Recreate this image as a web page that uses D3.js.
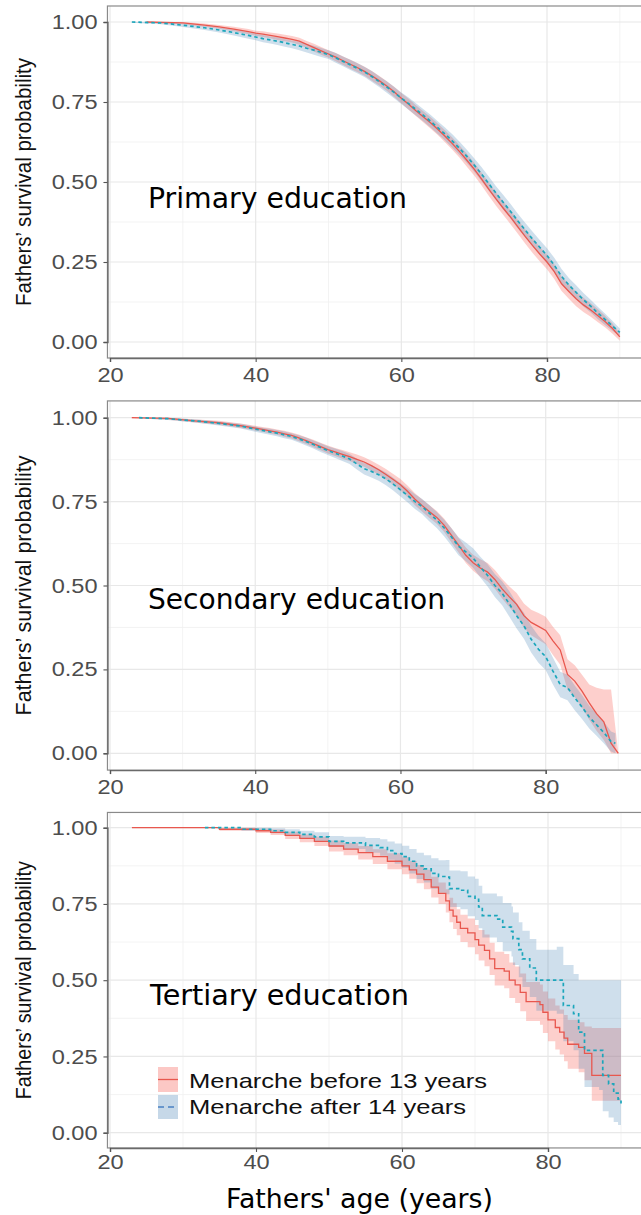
<!DOCTYPE html>
<html><head><meta charset="utf-8">
<script src="https://cdn.jsdelivr.net/npm/d3@7"></script>
<style>body{margin:0;background:#fff}svg{display:block}</style>
</head><body><svg id="c" width="641" height="1215"></svg>
<script>
// ---------- DATA ----------
const panelTitles = ["Primary education", "Secondary education", "Tertiary education"];
const seriesNames = ["Menarche before 13 years", "Menarche after 14 years"];
const xTicks = [20, 40, 60, 80];
const xMinorTicks = [30, 50, 70, 90];
const yTicks = [0, 0.25, 0.5, 0.75, 1];
const yMinorTicks = [0.125, 0.375, 0.625, 0.875];
const xTitle = "Fathers' age (years)";
const yTitle = "Fathers\u2019 survival probability";

// Primary education
const primaryBeforeAge = [25,30,33,35,37,39,40,41,42,43,44,45,46,47,48,49,50,51,52,53,54,55,56,57,58,59,60,61,62,63,64,65,66,67,68,69,70,71,72,73,74,75,76,77,78,79,80,81,82,83,84,85,86,87,88,89,90];
const primaryBeforeSurv = [1.000,0.997,0.990,0.985,0.978,0.970,0.965,0.962,0.958,0.954,0.950,0.946,0.940,0.930,0.920,0.910,0.900,0.890,0.879,0.868,0.857,0.845,0.831,0.816,0.800,0.782,0.762,0.743,0.723,0.704,0.685,0.665,0.643,0.620,0.595,0.568,0.540,0.510,0.478,0.447,0.418,0.390,0.360,0.330,0.302,0.275,0.250,0.220,0.182,0.158,0.135,0.116,0.100,0.082,0.063,0.042,0.016];
const primaryBeforeLow = [0.998,0.993,0.985,0.979,0.971,0.962,0.957,0.953,0.949,0.944,0.940,0.936,0.929,0.919,0.908,0.898,0.888,0.877,0.866,0.854,0.843,0.831,0.816,0.801,0.785,0.766,0.746,0.726,0.706,0.687,0.667,0.647,0.624,0.601,0.576,0.548,0.520,0.490,0.457,0.426,0.397,0.368,0.338,0.308,0.279,0.252,0.227,0.197,0.159,0.135,0.112,0.094,0.079,0.062,0.045,0.026,0.004];
const primaryBeforeHigh = [1.000,1.000,0.995,0.991,0.985,0.978,0.973,0.971,0.967,0.964,0.960,0.956,0.951,0.941,0.932,0.922,0.912,0.903,0.892,0.882,0.871,0.859,0.846,0.831,0.815,0.798,0.778,0.760,0.740,0.721,0.703,0.683,0.662,0.639,0.614,0.588,0.560,0.530,0.499,0.468,0.439,0.412,0.382,0.352,0.325,0.298,0.273,0.243,0.205,0.181,0.158,0.138,0.121,0.102,0.081,0.058,0.028];
const primaryAfterAge = [23,27,30,33,35,37,39,40,41,42,43,44,45,46,47,48,49,50,51,52,53,54,55,56,57,58,59,60,61,62,63,64,65,66,67,68,69,70,71,72,73,74,75,76,77,78,79,80,81,82,83,84,85,86,87,88,89,90];
const primaryAfterSurv = [1.000,0.997,0.990,0.982,0.975,0.967,0.958,0.953,0.948,0.944,0.940,0.935,0.930,0.925,0.918,0.912,0.905,0.898,0.888,0.877,0.866,0.855,0.843,0.829,0.813,0.797,0.780,0.762,0.745,0.727,0.709,0.690,0.670,0.650,0.628,0.605,0.580,0.553,0.525,0.495,0.465,0.436,0.408,0.378,0.350,0.322,0.296,0.270,0.240,0.205,0.178,0.155,0.132,0.112,0.090,0.070,0.050,0.030];
const primaryAfterLow = [0.998,0.993,0.984,0.975,0.967,0.958,0.948,0.943,0.937,0.933,0.928,0.923,0.918,0.912,0.905,0.898,0.891,0.884,0.873,0.862,0.850,0.839,0.827,0.812,0.796,0.779,0.762,0.744,0.726,0.708,0.690,0.670,0.650,0.630,0.607,0.584,0.559,0.532,0.503,0.473,0.443,0.413,0.385,0.355,0.327,0.299,0.273,0.247,0.217,0.182,0.156,0.133,0.111,0.092,0.071,0.052,0.034,0.018];
const primaryAfterHigh = [1.000,1.000,0.996,0.989,0.983,0.976,0.968,0.963,0.959,0.955,0.952,0.947,0.942,0.938,0.931,0.926,0.919,0.912,0.903,0.892,0.882,0.871,0.859,0.846,0.830,0.815,0.798,0.780,0.764,0.746,0.728,0.710,0.690,0.670,0.649,0.626,0.601,0.574,0.547,0.517,0.487,0.459,0.431,0.401,0.373,0.345,0.319,0.293,0.263,0.228,0.200,0.177,0.153,0.132,0.109,0.088,0.066,0.042];

// Secondary education
const secondaryBeforeAge = [23,28,32,35,38,40,41,42,43,44,45,46,47,48,49,50,51,52,53,54,55,56,57,58,59,60,61,62,63,64,65,66,67,68,69,70,71,72,73,74,75,76,77,78,79,80,81,82,83,84,85,86,87,88,89,90];
const secondaryBeforeSurv = [1.000,0.998,0.990,0.985,0.976,0.969,0.965,0.961,0.957,0.952,0.947,0.940,0.932,0.923,0.914,0.905,0.898,0.891,0.884,0.876,0.868,0.857,0.845,0.831,0.816,0.800,0.780,0.757,0.738,0.720,0.703,0.680,0.650,0.620,0.590,0.568,0.552,0.540,0.518,0.490,0.466,0.444,0.410,0.390,0.378,0.366,0.335,0.308,0.235,0.215,0.185,0.150,0.118,0.094,0.030,0.000];
const secondaryBeforeLow = [0.998,0.994,0.985,0.979,0.969,0.962,0.958,0.953,0.949,0.943,0.938,0.930,0.922,0.912,0.903,0.893,0.886,0.878,0.871,0.862,0.854,0.842,0.830,0.815,0.800,0.783,0.763,0.739,0.720,0.701,0.684,0.660,0.629,0.598,0.567,0.544,0.526,0.513,0.490,0.461,0.435,0.410,0.374,0.352,0.338,0.325,0.293,0.264,0.190,0.168,0.136,0.100,0.067,0.040,0.000,0.000];
const secondaryBeforeHigh = [1.000,1.000,0.995,0.991,0.983,0.976,0.972,0.969,0.965,0.961,0.956,0.950,0.942,0.934,0.925,0.917,0.910,0.904,0.897,0.890,0.882,0.872,0.860,0.847,0.832,0.817,0.797,0.775,0.756,0.739,0.722,0.700,0.671,0.642,0.613,0.592,0.578,0.567,0.546,0.519,0.497,0.478,0.446,0.428,0.418,0.407,0.377,0.352,0.280,0.262,0.234,0.205,0.195,0.190,0.190,0.000];
const secondaryAfterAge = [24,28,32,35,38,40,41,42,43,44,45,46,47,48,49,50,51,52,53,54,55,56,57,58,59,60,61,62,63,64,65,66,67,68,69,70,71,72,73,74,75,76,77,78,79,80,81,82,83,84,85,86,87,88,89,89.6];
const secondaryAfterSurv = [1.000,0.997,0.990,0.983,0.975,0.966,0.962,0.958,0.954,0.949,0.944,0.937,0.929,0.920,0.911,0.902,0.894,0.886,0.877,0.862,0.848,0.840,0.830,0.818,0.802,0.785,0.768,0.750,0.735,0.715,0.695,0.672,0.645,0.617,0.600,0.582,0.555,0.530,0.500,0.477,0.445,0.410,0.380,0.340,0.310,0.288,0.245,0.205,0.196,0.165,0.138,0.108,0.085,0.062,0.035,0.030];
const secondaryAfterLow = [0.998,0.993,0.985,0.977,0.968,0.958,0.954,0.949,0.945,0.939,0.934,0.926,0.917,0.908,0.898,0.889,0.880,0.871,0.862,0.846,0.831,0.822,0.812,0.799,0.783,0.765,0.747,0.728,0.712,0.691,0.671,0.647,0.619,0.590,0.572,0.553,0.524,0.497,0.466,0.441,0.407,0.372,0.341,0.300,0.270,0.248,0.205,0.167,0.158,0.128,0.102,0.074,0.052,0.030,0.005,0.000];
const secondaryAfterHigh = [1.000,1.000,0.995,0.989,0.982,0.974,0.970,0.967,0.963,0.959,0.954,0.948,0.941,0.932,0.924,0.915,0.908,0.901,0.892,0.878,0.865,0.858,0.848,0.837,0.821,0.805,0.789,0.772,0.758,0.739,0.719,0.697,0.671,0.644,0.628,0.611,0.586,0.563,0.534,0.513,0.483,0.448,0.419,0.380,0.350,0.328,0.285,0.243,0.234,0.202,0.174,0.142,0.118,0.094,0.065,0.060];

// Tertiary education
const tertiaryBeforeAge = [23,35,40,42,44,46,48,50,52,54,56,58,60,61,62,63,64,65,66,66.5,67,67.5,68,69,70,70.5,71.3,72,72.7,74,74.7,75.5,76.2,77,78.9,79.3,80,81,81.6,82.2,82.7,84.2,85,86,90];
const tertiaryBeforeSurv = [1.0,0.995,0.99,0.985,0.975,0.965,0.955,0.94,0.93,0.918,0.905,0.89,0.875,0.862,0.848,0.83,0.805,0.785,0.76,0.73,0.71,0.69,0.67,0.655,0.633,0.615,0.598,0.57,0.538,0.53,0.5,0.485,0.46,0.43,0.42,0.395,0.37,0.345,0.33,0.31,0.29,0.28,0.26,0.188,0.188];
const tertiaryBeforeLow = [1.0,0.99,0.983,0.976,0.963,0.952,0.94,0.922,0.91,0.896,0.881,0.864,0.847,0.833,0.818,0.798,0.771,0.75,0.722,0.69,0.668,0.647,0.625,0.608,0.585,0.565,0.546,0.517,0.483,0.474,0.442,0.425,0.398,0.366,0.354,0.327,0.30,0.273,0.256,0.234,0.21,0.198,0.172,0.105,0.105];
const tertiaryBeforeHigh = [1.0,1.0,0.997,0.994,0.987,0.978,0.97,0.958,0.95,0.94,0.929,0.916,0.903,0.891,0.878,0.862,0.839,0.82,0.798,0.77,0.752,0.733,0.715,0.702,0.681,0.665,0.65,0.623,0.593,0.586,0.558,0.545,0.522,0.494,0.486,0.463,0.44,0.417,0.404,0.386,0.37,0.362,0.348,0.343,0.343];
const tertiaryAfterAge = [33,38,42,44,46,48,50,52,55,57,58,59,60,61,62,63,64,65,66,66.5,68,69,70,70.5,71,73,73.8,75,75.2,76,76.5,77.5,78.4,81.2,82.1,83.5,84.2,85,87,87.5,88.3,89,89.6,90];
const tertiaryAfterSurv = [1.0,0.995,0.99,0.985,0.978,0.97,0.955,0.95,0.942,0.935,0.925,0.915,0.905,0.89,0.875,0.865,0.85,0.84,0.838,0.80,0.795,0.775,0.765,0.74,0.712,0.70,0.674,0.66,0.636,0.60,0.57,0.54,0.50,0.50,0.417,0.39,0.33,0.27,0.27,0.188,0.16,0.13,0.11,0.096];
const tertiaryAfterLow = [1.0,0.99,0.982,0.975,0.966,0.955,0.937,0.93,0.918,0.908,0.895,0.882,0.869,0.85,0.832,0.82,0.80,0.787,0.782,0.74,0.733,0.71,0.697,0.67,0.64,0.625,0.595,0.578,0.55,0.51,0.478,0.445,0.40,0.39,0.30,0.27,0.21,0.15,0.14,0.07,0.05,0.035,0.025,0.02];
const tertiaryAfterHigh = [1.0,1.0,0.998,0.995,0.99,0.985,0.973,0.97,0.966,0.962,0.955,0.948,0.941,0.93,0.918,0.91,0.90,0.893,0.894,0.86,0.857,0.84,0.833,0.81,0.784,0.775,0.753,0.742,0.722,0.69,0.662,0.635,0.60,0.61,0.55,0.52,0.50,0.50,0.50,0.50,0.50,0.50,0.50,0.50];

// ---------- BUILD ----------
function zipSeries(age, s, lo, hi) { return age.map((a, i) => ({age: a, s: s[i], lo: lo[i], hi: hi[i]})); }
const panels = [
  [zipSeries(primaryBeforeAge, primaryBeforeSurv, primaryBeforeLow, primaryBeforeHigh),
   zipSeries(primaryAfterAge, primaryAfterSurv, primaryAfterLow, primaryAfterHigh)],
  [zipSeries(secondaryBeforeAge, secondaryBeforeSurv, secondaryBeforeLow, secondaryBeforeHigh),
   zipSeries(secondaryAfterAge, secondaryAfterSurv, secondaryAfterLow, secondaryAfterHigh)],
  [zipSeries(tertiaryBeforeAge, tertiaryBeforeSurv, tertiaryBeforeLow, tertiaryBeforeHigh),
   zipSeries(tertiaryAfterAge, tertiaryAfterSurv, tertiaryAfterLow, tertiaryAfterHigh)]
];

const layout = [
  {x20:110, x80:547,   y0:342,    y1:22,    titleX:148, titleY:208,  titleSize:27.5, titleW:259, ylabW:248, xPad:9, stepped:false},
  {x20:110, x80:545.7, y0:753.3,  y1:417.7, titleX:148, titleY:609,  titleSize:29,   titleW:297, ylabW:260, xPad:9, stepped:false},
  {x20:110, x80:548,   y0:1132.7, y1:827.7, titleX:150, titleY:1005, titleSize:27.5, titleW:259, ylabW:238, xPad:7, stepped:true}
];

const style = {
  lineCol: ["#e8574e", "#1ba6bb"],
  bandCol: ["#F8766D", "#4682B4"],
  bandOp: [0.35, 0.26],
  legendLine: ["#e8574e", "#4a80c2"]
};

const svg = d3.select("#c");
const SX = 1.15;

panels.forEach((series, pi) => {
  const L = layout[pi];
  const curve = L.stepped ? d3.curveStepAfter : d3.curveLinear;
  const x = d3.scaleLinear().domain([20, 80]).range([L.x20, L.x80]);
  const y = d3.scaleLinear().domain([0, 1]).range([L.y0, L.y1]);
  const left = x(19.65), right = x(93.35), top = y(1.05), bottom = y(-0.05);
  const g = svg.append("g");

  // grid
  g.selectAll(".vminor").data(xMinorTicks).join("line")
    .attr("x1", d => x(d)).attr("x2", d => x(d)).attr("y1", top).attr("y2", bottom)
    .attr("stroke", "#f0f0f0").attr("stroke-width", 0.8);
  g.selectAll(".hminor").data(yMinorTicks).join("line")
    .attr("x1", left).attr("x2", right).attr("y1", d => y(d)).attr("y2", d => y(d))
    .attr("stroke", "#f0f0f0").attr("stroke-width", 0.8);
  g.selectAll(".vmajor").data(xTicks).join("line")
    .attr("x1", d => x(d)).attr("x2", d => x(d)).attr("y1", top).attr("y2", bottom)
    .attr("stroke", "#e8e8e8").attr("stroke-width", 1.2);
  g.selectAll(".hmajor").data(yTicks).join("line")
    .attr("x1", left).attr("x2", right).attr("y1", d => y(d)).attr("y2", d => y(d))
    .attr("stroke", "#e8e8e8").attr("stroke-width", 1.2);

  // bands
  series.forEach((d, si) => {
    const area = d3.area().curve(curve)
      .x(p => x(p.age)).y0(p => y(p.lo)).y1(p => y(p.hi));
    g.append("path").attr("d", area(d))
      .attr("fill", style.bandCol[si]).attr("fill-opacity", style.bandOp[si]);
  });
  // lines
  series.forEach((d, si) => {
    const line = d3.line().curve(curve).x(p => x(p.age)).y(p => y(p.s));
    g.append("path").attr("d", line(d)).attr("fill", "none")
      .attr("stroke", style.lineCol[si]).attr("stroke-width", si ? 1.7 : 1.3)
      .attr("stroke-dasharray", si ? "3.5,3" : null);
  });

  // border
  g.append("rect").attr("x", left).attr("y", top).attr("width", right - left).attr("height", bottom - top)
    .attr("fill", "none").attr("stroke", "#8a8a8a").attr("stroke-width", 1.2);

  // axes
  const ya = g.append("g").attr("transform", `translate(${left},0)`)
    .call(d3.axisLeft(y).tickValues(yTicks).tickFormat(d3.format(".2f")).tickSize(4).tickPadding(4.6));
  const xa = g.append("g").attr("transform", `translate(0,${bottom})`)
    .call(d3.axisBottom(x).tickValues(xTicks).tickSize(4).tickPadding(L.xPad - 4));
  [ya, xa].forEach(a => {
    a.select(".domain").attr("stroke", "#6a6a6a").attr("stroke-width", 1.4);
    a.selectAll(".tick line").attr("stroke", "#555").attr("stroke-width", 1.1);
    a.selectAll(".tick text").attr("font-family", "'Liberation Sans', Arial, sans-serif")
      .attr("font-size", 20.5).attr("fill", "#4d4d4d").attr("transform", `scale(${SX},1)`);
  });

  // y title
  g.append("text")
    .attr("transform", `translate(31,${y(0.5)}) scale(1.12,1) rotate(-90)`)
    .attr("text-anchor", "middle").attr("font-family", "'Liberation Sans', Arial, sans-serif")
    .attr("font-size", 20).attr("fill", "#111")
    .attr("textLength", L.ylabW).attr("lengthAdjust", "spacingAndGlyphs")
    .text(yTitle);

  // panel title
  g.append("text").attr("x", L.titleX).attr("y", L.titleY)
    .attr("font-family", "'DejaVu Sans', Verdana, sans-serif").attr("font-size", L.titleSize)
    .attr("fill", "#000").attr("textLength", L.titleW).attr("lengthAdjust", "spacingAndGlyphs")
    .text(panelTitles[pi]);

  // legend in last panel
  if (pi === 2) {
    const lg = g.append("g");
    const keys = [{y: 1067, h: 25, ty: 1088, tw: 298}, {y: 1095, h: 24, ty: 1114, tw: 277}];
    keys.forEach((k, si) => {
      lg.append("rect").attr("x", 158).attr("y", k.y).attr("width", 20).attr("height", k.h)
        .attr("fill", style.bandCol[si]).attr("fill-opacity", style.bandOp[si] + 0.05);
      lg.append("line").attr("x1", 158).attr("x2", 178).attr("y1", k.y + k.h / 2).attr("y2", k.y + k.h / 2)
        .attr("stroke", style.legendLine[si]).attr("stroke-width", si ? 1.6 : 1.3)
        .attr("stroke-dasharray", si ? "6,4" : null);
      lg.append("text").attr("x", 189).attr("y", k.ty)
        .attr("font-family", "'Liberation Sans', Arial, sans-serif").attr("font-size", 21)
        .attr("fill", "#111").attr("textLength", k.tw).attr("lengthAdjust", "spacingAndGlyphs")
        .text(seriesNames[si]);
    });
    // x title
    g.append("text").attr("x", 359.5).attr("y", 1208).attr("text-anchor", "middle")
      .attr("font-family", "'DejaVu Sans', Verdana, sans-serif").attr("font-size", 26)
      .attr("fill", "#000").attr("textLength", 267).attr("lengthAdjust", "spacingAndGlyphs")
      .text(xTitle);
  }
});
</script></body></html>
